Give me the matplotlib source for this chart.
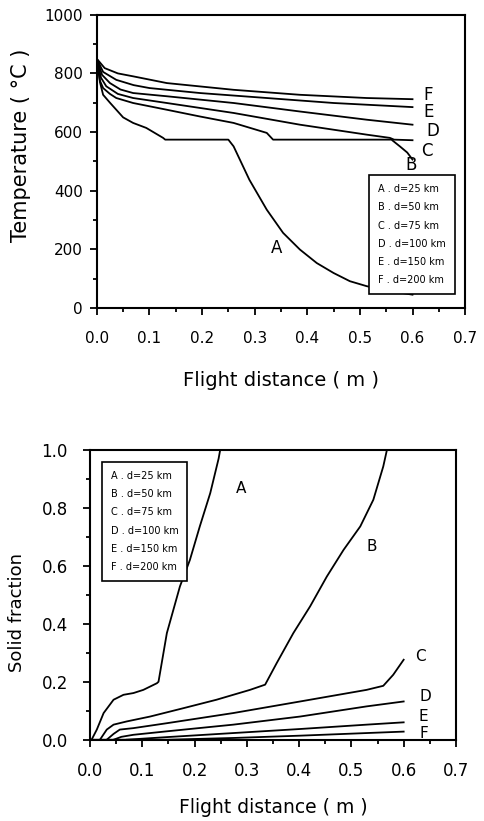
import numpy as np
import matplotlib
matplotlib.use('Agg')
import matplotlib.pyplot as plt
from matplotlib.ticker import MultipleLocator

labels = ['A', 'B', 'C', 'D', 'E', 'F']
legend_text = ['A . d=25 km', 'B . d=50 km', 'C . d=75 km',
               'D . d=100 km', 'E . d=150 km', 'F . d=200 km']

# temperature curves (flight distance m, temperature C)
tA_x = [0.0, 0.006, 0.012, 0.025, 0.037, 0.05, 0.069, 0.094, 0.126, 0.13, 0.25, 0.26, 0.29, 0.323, 0.354, 0.386, 0.418, 0.45, 0.481, 0.513, 0.55, 0.6]
tA_y = [850, 770, 727, 700, 676, 650, 631, 614, 580, 574, 574, 551, 437, 335, 256, 199, 153, 119, 91, 74, 60, 45]
tB_x = [0.0, 0.006, 0.012, 0.025, 0.037, 0.069, 0.133, 0.196, 0.26, 0.323, 0.335, 0.56, 0.576, 0.59, 0.6]
tB_y = [850, 775, 750, 730, 716, 699, 676, 653, 631, 597, 574, 574, 551, 530, 506]
tC_x = [0.0, 0.008, 0.018, 0.04, 0.069, 0.133, 0.26, 0.386, 0.513, 0.557, 0.565, 0.6]
tC_y = [850, 785, 756, 730, 716, 699, 665, 625, 591, 580, 574, 572]
tD_x = [0.0, 0.01, 0.025, 0.045, 0.069, 0.133, 0.26, 0.386, 0.513, 0.6]
tD_y = [850, 795, 767, 745, 733, 722, 699, 670, 642, 625]
tE_x = [0.0, 0.012, 0.037, 0.07, 0.1, 0.196, 0.323, 0.45, 0.6]
tE_y = [850, 805, 778, 760, 750, 733, 716, 699, 685]
tF_x = [0.0, 0.015, 0.04, 0.069, 0.133, 0.26, 0.386, 0.513, 0.6]
tF_y = [850, 818, 800, 790, 767, 744, 727, 716, 712]

# solid fraction curves
sA_x = [0.003, 0.013, 0.026, 0.045, 0.064, 0.083, 0.102, 0.128, 0.131, 0.147, 0.172, 0.191, 0.21, 0.23, 0.246, 0.249]
sA_y = [0.0, 0.035, 0.092, 0.138, 0.155, 0.161, 0.172, 0.195, 0.2, 0.368, 0.529, 0.62, 0.736, 0.851, 0.97, 1.0]
sB_x = [0.019, 0.032, 0.045, 0.07, 0.115, 0.179, 0.242, 0.306, 0.335, 0.357, 0.389, 0.421, 0.453, 0.485, 0.517, 0.542, 0.561, 0.568]
sB_y = [0.0, 0.035, 0.052, 0.063, 0.08, 0.109, 0.138, 0.172, 0.19, 0.264, 0.368, 0.46, 0.563, 0.655, 0.736, 0.828, 0.943, 1.0]
sC_x = [0.032, 0.045, 0.057, 0.083, 0.147, 0.274, 0.402, 0.529, 0.561, 0.58, 0.6]
sC_y = [0.0, 0.02, 0.035, 0.04, 0.057, 0.092, 0.132, 0.172, 0.186, 0.224, 0.276]
sD_x = [0.045, 0.06, 0.083, 0.147, 0.274, 0.402, 0.529, 0.6]
sD_y = [0.0, 0.01, 0.017, 0.029, 0.052, 0.08, 0.115, 0.132]
sE_x = [0.07, 0.147, 0.274, 0.402, 0.529, 0.6]
sE_y = [0.0, 0.009, 0.023, 0.037, 0.052, 0.06]
sF_x = [0.0, 0.147, 0.274, 0.402, 0.529, 0.6]
sF_y = [0.0, 0.0, 0.006, 0.014, 0.023, 0.028]

temp_curves = [(tA_x, tA_y), (tB_x, tB_y), (tC_x, tC_y), (tD_x, tD_y), (tE_x, tE_y), (tF_x, tF_y)]
solid_curves = [(sA_x, sA_y), (sB_x, sB_y), (sC_x, sC_y), (sD_x, sD_y), (sE_x, sE_y), (sF_x, sF_y)]

temp_label_pos = [(0.33, 205), (0.586, 489), (0.617, 534), (0.627, 602), (0.621, 670), (0.621, 727)]
solid_label_pos = [(0.279, 0.868), (0.529, 0.667), (0.622, 0.287), (0.631, 0.149), (0.628, 0.08), (0.63, 0.022)]

fig = plt.figure(figsize=(4.84, 8.21), dpi=100)
ax1 = fig.add_axes([0.200, 0.625, 0.761, 0.357])
ax2 = fig.add_axes([0.186, 0.099, 0.756, 0.353])


def style(ax, tick_size, xpad, ypad):
    for s in ax.spines.values():
        s.set_linewidth(1.5)
    ax.xaxis.set_major_locator(MultipleLocator(0.1))
    ax.xaxis.set_minor_locator(MultipleLocator(0.05))
    ax.tick_params(which='both', direction='out', width=1.3, labelsize=tick_size)
    ax.tick_params(which='major', length=5)
    ax.tick_params(which='minor', length=3)
    ax.tick_params(axis='x', which='major', pad=xpad)
    ax.tick_params(axis='y', which='major', pad=ypad)
    ax.set_xlim(0, 0.7)


def text_legend(ax, **kw):
    leg = ax.legend(handlelength=0, handletextpad=0, fontsize=7, frameon=True,
                    fancybox=False, edgecolor='black', framealpha=1,
                    borderpad=0.9, labelspacing=0.85, **kw)
    leg.get_frame().set_linewidth(1.2)
    leg.set_zorder(5)
    for h in leg.legend_handles:
        h.set_visible(False)
    return leg


for (x, y), lab in zip(temp_curves, legend_text):
    ax1.plot(x, y, color='black', lw=1.3, label=lab)
for (px, py), l in zip(temp_label_pos, labels):
    ax1.text(px, py, l, fontsize=12, ha='left', va='center')
style(ax1, 11, 12, 5)
ax1.set_ylim(0, 1000)
ax1.yaxis.set_major_locator(MultipleLocator(200))
ax1.yaxis.set_minor_locator(MultipleLocator(100))
ax1.set_xlabel('Flight distance ( m )', fontsize=14)
ax1.set_ylabel('Temperature ( °C )', fontsize=15)
ax1.xaxis.set_label_coords(0.5, -0.215)
ax1.yaxis.set_label_coords(-0.18, 0.553)
text_legend(ax1, loc='lower right', bbox_to_anchor=(0.985, 0.03))

for (x, y), lab in zip(solid_curves, legend_text):
    ax2.plot(x, y, color='black', lw=1.3, label=lab)
for (px, py), l in zip(solid_label_pos, labels):
    ax2.text(px, py, l, fontsize=11, ha='left', va='center')
style(ax2, 12, 11, 11)
ax2.set_ylim(0, 1.0)
ax2.yaxis.set_major_locator(MultipleLocator(0.2))
ax2.yaxis.set_minor_locator(MultipleLocator(0.1))
ax2.set_xlabel('Flight distance ( m )', fontsize=13.5)
ax2.set_ylabel('Solid fraction', fontsize=13)
ax2.xaxis.set_label_coords(0.5, -0.2)
ax2.yaxis.set_label_coords(-0.175, 0.44)
text_legend(ax2, loc='upper left', bbox_to_anchor=(0.02, 0.975))

plt.savefig('out.png', dpi=100)
